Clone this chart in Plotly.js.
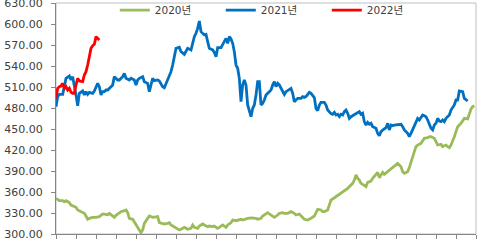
<!DOCTYPE html>
<html>
<head>
<meta charset="utf-8">
<script src="https://cdn.plot.ly/plotly-3.0.1.min.js"></script>
<style>
  html, body { margin: 0; padding: 0; background: #ffffff; }
  #chart { width: 488px; height: 243px; }
</style>
</head>
<body>
<div id="chart"></div>
<script>
// Trading-day index (0..252) and price values
var seriesNames = ['2020년', '2021년', '2022년'];

var days2020 = [0,1,2,4,5,6,8,9,10,12,13,15,17,18,19,20,22,24,26,28,29,31,32,34,35,36,38,39,41,42,43,44,46,47,48,50,51,52,53,55,56,58,60,61,62,64,65,67,68,69,71,72,74,75,77,78,79,81,82,83,85,86,88,89,91,92,94,95,97,98,99,100,102,103,105,106,108,109,111,112,114,115,117,118,120,121,123,124,126,127,128,129,130,131,133,134,136,137,139,140,141,143,144,146,147,148,149,151,152,153,155,156,157,159,160,161,163,164,165,166,168,169,171,172,174,175,177,178,179,180,181,182,183,185,186,187,189,190,191,192,193,194,195,196,197,199,200,201,203,204,205,207,208,209,211,212,213,214,215,216,217,219,220,221,223,224,225,227,228,229,231,232,233,234,235,236,237,238,239,240,241,243,244,245,247,248,249,250,251];
var values2020 = [351,348.6,347.6,347.6,346.2,347.6,344.8,341.4,340,338.1,334.3,331.9,329.5,325.7,321,322.4,323.8,323.8,324.8,328.6,328.6,327.6,329.5,325.7,323.8,326.7,329.5,331.9,333.3,334.3,330.5,322.4,321,317.6,312.9,305.7,301.9,305.7,315.2,322.4,325.7,323.8,324.8,324.8,316.2,314.3,314.3,315.2,316.2,312.9,310.5,308.1,305.7,306.7,309.5,308.1,306.7,308.1,312.9,309.5,308.1,311.4,314.3,312.9,310.5,311.4,310.5,311.4,308.1,309.5,311.4,312.9,309.5,312.9,316.2,320,319,320,321,320,321.9,322.4,322.9,322.9,322.4,321,322.4,325.7,329.5,330.5,328.6,327.1,324.8,323.8,327.1,329.5,330.5,329.5,329.5,330.5,331.9,329.5,327.1,328.6,325.7,323.8,321,320,321,322.4,325.7,331.9,335.2,334.3,331.9,331.9,334.3,341.4,348.6,350,353.3,355.7,358.1,360.5,362.9,365.2,370,372.4,377.1,384.3,379.5,377.1,372.4,370,367.6,373.8,375.7,379.5,381.9,385.2,388.1,380.5,384.3,388.1,385.2,389,391.4,392.9,396.2,398.6,401,396.2,389,386.7,389,394.8,403.3,412.9,417.6,424.8,427.1,429.5,432.9,436.7,437.6,439,439,436.7,431.9,427.1,428.1,424.8,426.2,427.1,424.8,423.3,427.1,431.9,439,446.2,453.3,458.1,461.4,465.2,464.3,472.4,478.6,481.9,483.3];

var days2021 = [0,1,2,4,5,6,8,9,10,11,12,13,14,16,17,18,19,20,22,23,25,26,27,28,29,30,31,33,34,35,37,38,40,41,42,44,45,47,48,49,50,52,53,55,56,57,58,59,61,62,64,65,66,68,69,70,71,72,74,75,77,79,81,82,83,84,85,86,87,89,90,91,92,94,95,96,97,99,100,101,102,103,104,105,106,107,108,109,110,111,112,113,114,115,116,117,118,119,120,121,122,123,124,125,126,128,129,130,131,132,133,134,136,137,138,140,141,142,143,144,145,147,148,149,150,152,153,155,156,157,158,159,161,162,163,165,166,167,168,169,170,171,172,173,174,175,176,177,179,180,182,183,184,185,186,187,188,189,190,192,193,194,195,196,198,199,200,201,202,203,204,206,207,208,209,211,212,213,214,215,216,217,218,219,220,221,222,223,224,225,226,227,228,229,230,231,232,233,234,236,237,239,240,241,242,244,245,246,247];
var values2021 = [481.9,496.2,499.5,499.5,510.5,522.4,525.7,520,524.8,508.1,498.6,483.3,501,504.3,498.6,503.3,499.5,502.4,501,504.3,515.2,510.5,498.6,503.3,503.3,505.7,505.7,510.5,512.9,524.8,520,520,524.8,529.5,522.4,520,522.4,520,512.9,520,522.4,524.8,517.6,515.2,503.3,512.9,522.4,519,520,518.6,510.5,509,515.2,524.8,531.9,541.4,553.3,565.2,566.7,560.5,556.7,565.2,562.9,572.4,581.9,586.7,593.8,604.3,589,584.3,585.2,574.8,565.2,562.9,559.5,553.3,566.2,566.2,570,574.8,579.5,572.4,581.9,578.6,572.4,560.5,541.4,536.7,522.4,489,512.9,520,512.9,484.3,477.1,467.6,479.5,484.3,498.6,517.6,517.6,484.3,486.7,491.4,498.6,503.3,505.7,512.9,517.6,510.5,515.2,512.9,503.3,499.5,503.3,505.7,508.1,501,489,491.4,493.8,493.8,496.2,495.2,496.2,502.4,501,494.8,479.5,476.2,484.3,488.1,488.1,484.3,477.1,472,471,473.8,470,471,467.6,471,470,474.8,477.1,472.4,465.2,467.6,470,472.4,474.8,471,472.4,460.5,455.7,459.5,456.7,458.1,453.3,451,443.8,440.5,446.2,448.6,451.9,458.1,448.6,455.7,454.8,455.7,455.7,455.7,456.7,453.3,448.6,443.8,439,443.8,448.6,455.7,460.5,465.2,462.9,467.6,470,469,467.6,462.9,458.1,451,448.6,455.7,458.1,465.2,461.4,460.5,462.9,460.5,465.2,470,477.1,484.3,491.4,491.4,504.3,503.3,493.8,491.4,490];

var days2022 = [0,1,2,3,4,5,6,7,8,9,10,11,12,13,14,16,17,18,19,20,21,22,23,24,25,26];
var values2022 = [494,508.1,510.5,511.4,515.2,508.1,510.5,505.7,508.1,502.4,501,501,512.9,522.4,518.6,517.6,527.1,531.9,541.4,553.3,565.2,569,571,581.9,578.6,577.1];

var yTicks = [300,330,360,390,420,450,480,510,540,570,600,630];
var xTickDays = [0,12,24,36,48,60,72,84,96,108,120,132,144,156,168,180,192,204,216,228,240,252];

var colors = ['#9BBB59', '#0070C0', '#FF0000'];
var fontFam = 'DejaVu Sans, Noto Sans CJK KR, sans-serif';

var traces = [
  {x: days2020, y: values2020, name: seriesNames[0]},
  {x: days2021, y: values2021, name: seriesNames[1]},
  {x: days2022, y: values2022, name: seriesNames[2]}
].map(function (t, i) {
  t.type = 'scatter';
  t.mode = 'lines';
  t.line = {color: colors[i], width: 2.8};
  t.hoverinfo = 'skip';
  return t;
});

var layout = {
  width: 488,
  height: 243,
  margin: {l: 56, r: 12, t: 3, b: 9, autoexpand: false},
  paper_bgcolor: '#ffffff',
  plot_bgcolor: '#ffffff',
  showlegend: true,
  legend: {
    orientation: 'h',
    x: 0.14, y: 1.032,
    xanchor: 'left', yanchor: 'top',
    font: {family: fontFam, size: 10.5, color: '#404040'},
    bgcolor: 'rgba(0,0,0,0)',
    entrywidth: 61,
    entrywidthmode: 'pixels',
    itemwidth: 30
  },
  xaxis: {
    range: [0, 252],
    tickmode: 'array',
    tickvals: xTickDays,
    showticklabels: false,
    ticks: 'outside',
    ticklen: 4,
    tickcolor: '#868686',
    showline: true,
    linecolor: '#868686',
    linewidth: 1,
    showgrid: false,
    zeroline: false,
    fixedrange: true
  },
  yaxis: {
    range: [300, 630],
    tickmode: 'array',
    tickvals: yTicks,
    tickformat: '.2f',
    ticks: 'outside',
    ticklen: 4,
    tickcolor: '#868686',
    ticklabelstandoff: 6,
    ticklabeloverflow: 'allow',
    tickfont: {family: fontFam, size: 11, color: '#404040'},
    showline: true,
    linecolor: '#868686',
    linewidth: 1,
    showgrid: false,
    zeroline: false,
    fixedrange: true
  },
  shapes: [
    {type: 'rect', xref: 'paper', yref: 'paper', x0: 0, x1: 1, y0: 0, y1: 1,
     line: {color: '#BFBFBF', width: 1}, fillcolor: 'rgba(0,0,0,0)', layer: 'below'}
  ]
};

Plotly.newPlot('chart', traces, layout, {staticPlot: true, displayModeBar: false});
</script>
</body>
</html>
